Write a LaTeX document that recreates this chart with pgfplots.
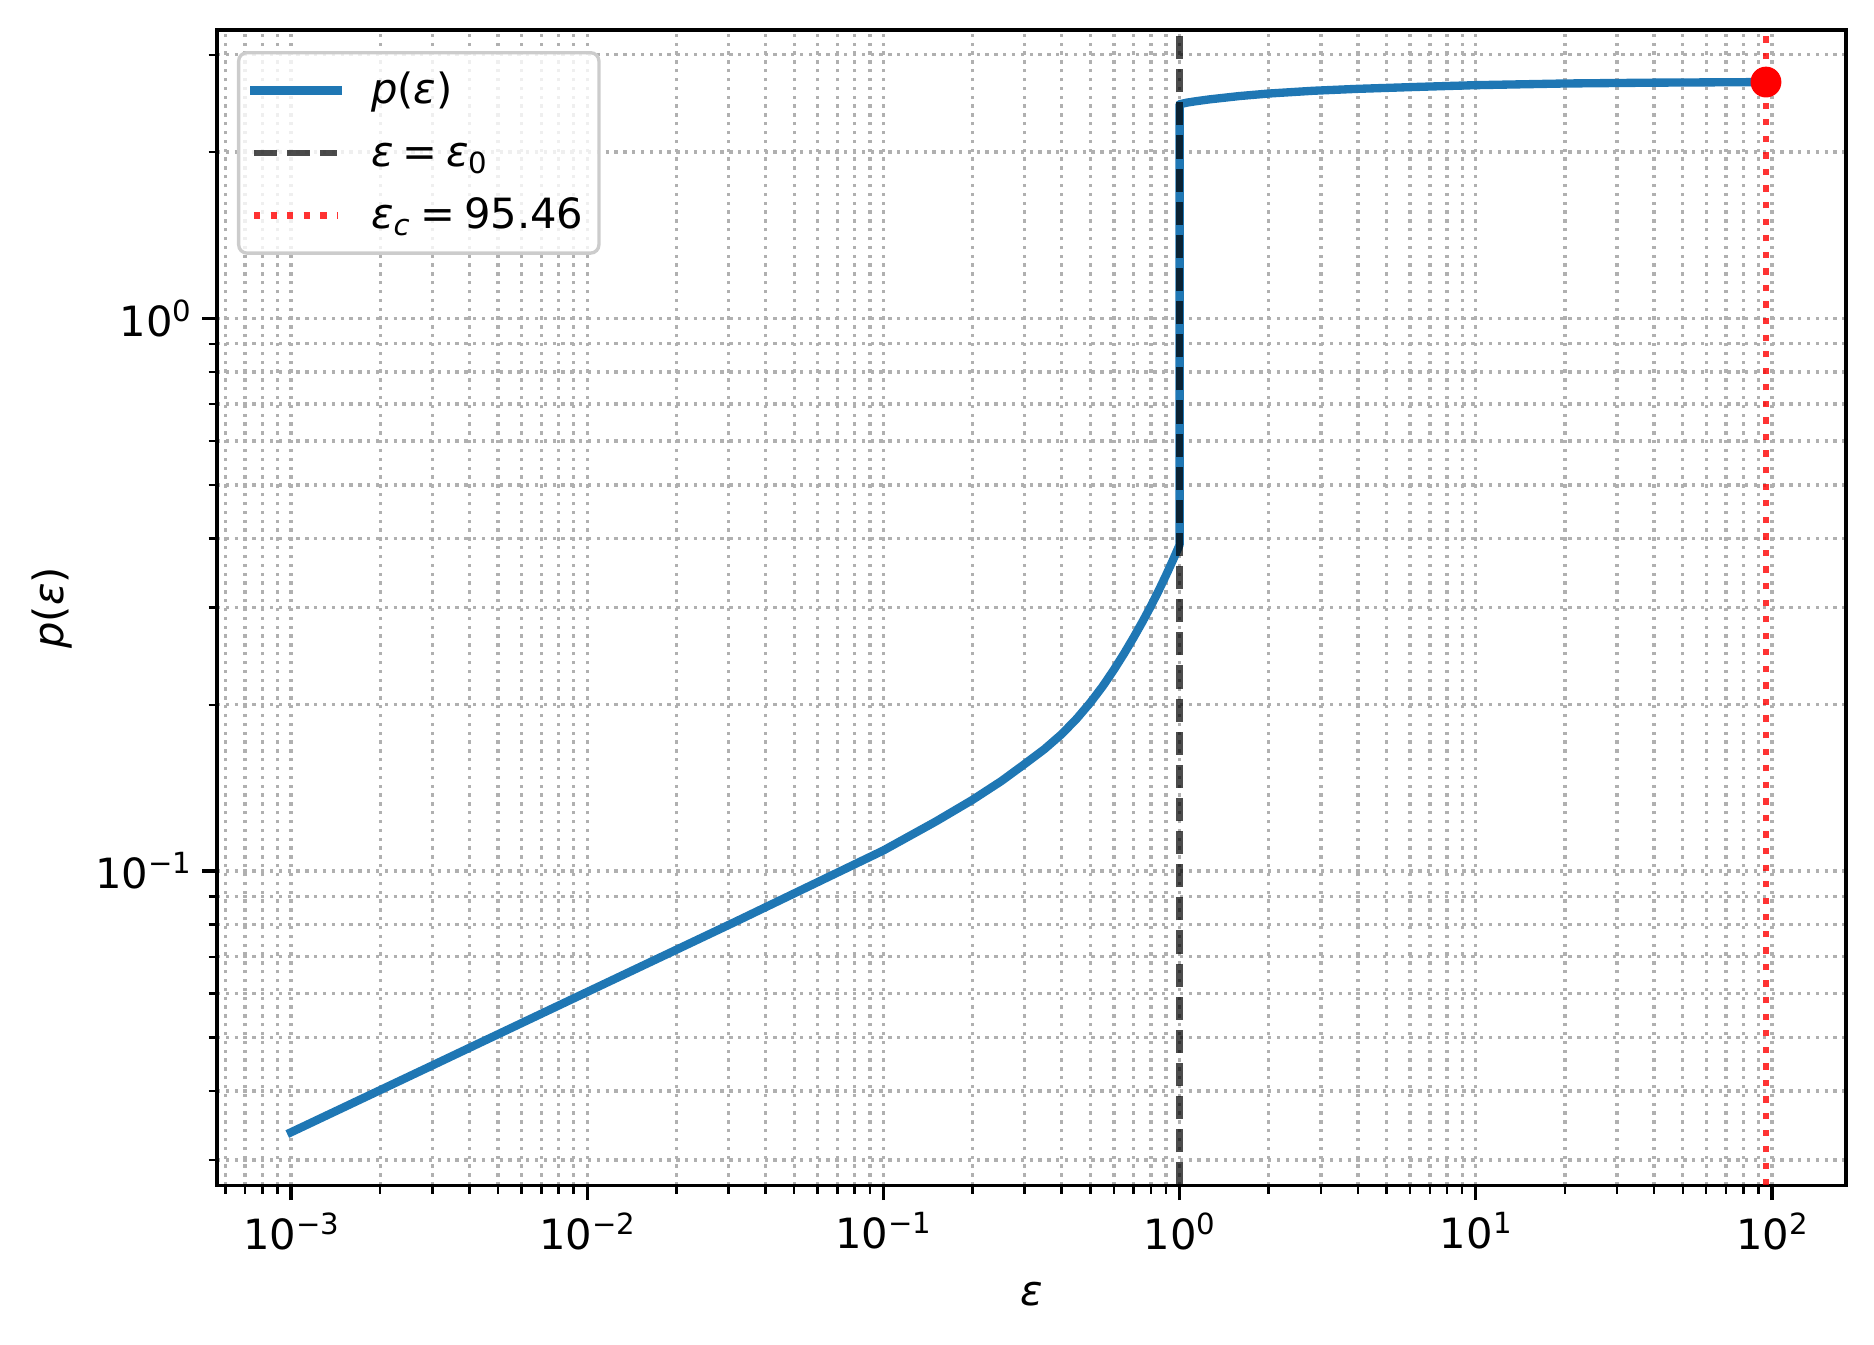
\documentclass[border=0pt]{standalone}
\usepackage{fontspec}
\setmainfont{DejaVu Sans}
\usepackage{pgfplots}
\pgfplotsset{compat=1.18}

\definecolor{mplblue}{HTML}{1F77B4}
\definecolor{gridgray}{HTML}{B0B0B0}
\definecolor{legedge}{HTML}{CCCCCC}

\newcommand{\ep}{\textit{ε}}
\newcommand{\tp}[1]{10\raisebox{3.6pt}{\fontsize{7}{8.4}\selectfont #1}}
\newcommand{\ls}{\rule[-1.6pt]{0pt}{9.6pt}}
\newcommand{\eq}{\hspace{2.1pt}=\hspace{2.1pt}}

\begin{document}
\begin{tikzpicture}
\useasboundingbox (-52.08pt,-38.28pt) rectangle (397.68pt,284.52pt);
\begin{axis}[
  scale only axis, width=390.96pt, height=277.32pt,
  xmode=log, ymode=log,
  xmin=5.6234e-4, xmax=177.83,
  ymin=0.02699, ymax=3.327,
  xtick={1e-3,1e-2,1e-1,1,10,100},
  xticklabels={\tp{−3},\tp{−2},\tp{−1},\tp{0},\tp{1},\tp{2}},
  ytick={0.1,1},
  yticklabels={\tp{−1},\tp{0}},
  minor xtick={6e-4,7e-4,8e-4,9e-4,
    2e-3,3e-3,4e-3,5e-3,6e-3,7e-3,8e-3,9e-3,
    0.02,0.03,0.04,0.05,0.06,0.07,0.08,0.09,
    0.2,0.3,0.4,0.5,0.6,0.7,0.8,0.9,
    2,3,4,5,6,7,8,9,
    20,30,40,50,60,70,80,90},
  minor ytick={0.03,0.04,0.05,0.06,0.07,0.08,0.09,
    0.2,0.3,0.4,0.5,0.6,0.7,0.8,0.9,2,3},
  grid=both,
  major grid style={gridgray, line width=0.8pt, dash pattern=on 0.8pt off 1.32pt},
  minor grid style={gridgray, line width=0.8pt, dash pattern=on 0.8pt off 1.32pt},
  tick align=outside, xtick pos=left, ytick pos=left,
  major tick length=3.5pt, minor tick length=2pt,
  major tick style={black, line width=0.8pt},
  minor tick style={black, line width=0.6pt},
  axis line style={line width=0.8pt},
  xticklabel style={anchor=north, inner sep=0pt, yshift=-2.8pt},
  yticklabel style={anchor=east, inner sep=0pt, xshift=-2.5pt},
  xlabel={\ep},
  ylabel={\textit{p}(\ep)},
  xlabel style={at={(axis description cs:0.5,-0.1039)}, anchor=base, inner sep=0pt},
  ylabel style={at={(axis description cs:-0.1015,0.5)}, anchor=center, inner sep=0pt},
  legend cell align=left,
  legend style={at={(axis description cs:0.01228,0.9818)}, anchor=north west,
    draw=legedge, line width=0.8pt, rounded corners=2pt,
    fill=white, fill opacity=0.8, draw opacity=1, text opacity=1,
    inner xsep=3.7pt, inner ysep=4.3pt, row sep=5.5pt, column sep=6.1pt,
    nodes={inner sep=0pt}},
  legend image code/.code={\path (0pt,0pt) (20pt,0pt);
    \draw[#1, overlay] (-1.01pt,0pt) -- (18.99pt,0pt);},
]
% p(eps)
\addplot[mplblue, line width=2pt, line join=round, line cap=rect] coordinates {
  (0.001,0.03369) (0.003162,0.04511) (0.01,0.06045) (0.03162,0.08097)
  (0.1,0.1090) (0.15,0.1229) (0.2,0.1346) (0.25,0.1455) (0.3,0.1563)
  (0.35,0.1663) (0.4,0.1770) (0.45,0.1889) (0.5,0.2019) (0.55,0.2160)
  (0.6,0.2314) (0.65,0.2477) (0.7,0.2649) (0.75,0.2828) (0.8,0.3017)
  (0.85,0.3218) (0.9,0.3431) (0.95,0.3656) (1,0.3894)
  (1,2.4412) (1.0593,2.4580) (1.1220,2.4702) (1.2589,2.4912) (1.5849,2.5257)
  (1.9953,2.5527) (2.8184,2.5823) (3.9811,2.6032) (6.3096,2.6242)
  (10,2.6436) (19.953,2.6620) (39.811,2.6712) (95.46,2.6780) (100,2.6786)
};
\addlegendentry{\ls\textit{p}(\ep)}
\addplot[black, draw opacity=0.7, line width=1.5pt, dash pattern=on 5.55pt off 2.4pt]
  coordinates {(1,0.02699) (1,3.327)};
\addlegendentry{\ls\ep\eq\ep\textsubscript{0}}
\addplot[red, draw opacity=0.8, line width=1.5pt, dash pattern=on 1.5pt off 2.475pt]
  coordinates {(95.46,0.02699) (95.46,3.327)};
\addlegendentry{\ls\ep\textsubscript{\textit{c}}\eq95.46}
\addplot[only marks, mark=*, mark size=3.5pt, red, forget plot]
  coordinates {(95.46,2.678)};
\end{axis}
\end{tikzpicture}
\end{document}
